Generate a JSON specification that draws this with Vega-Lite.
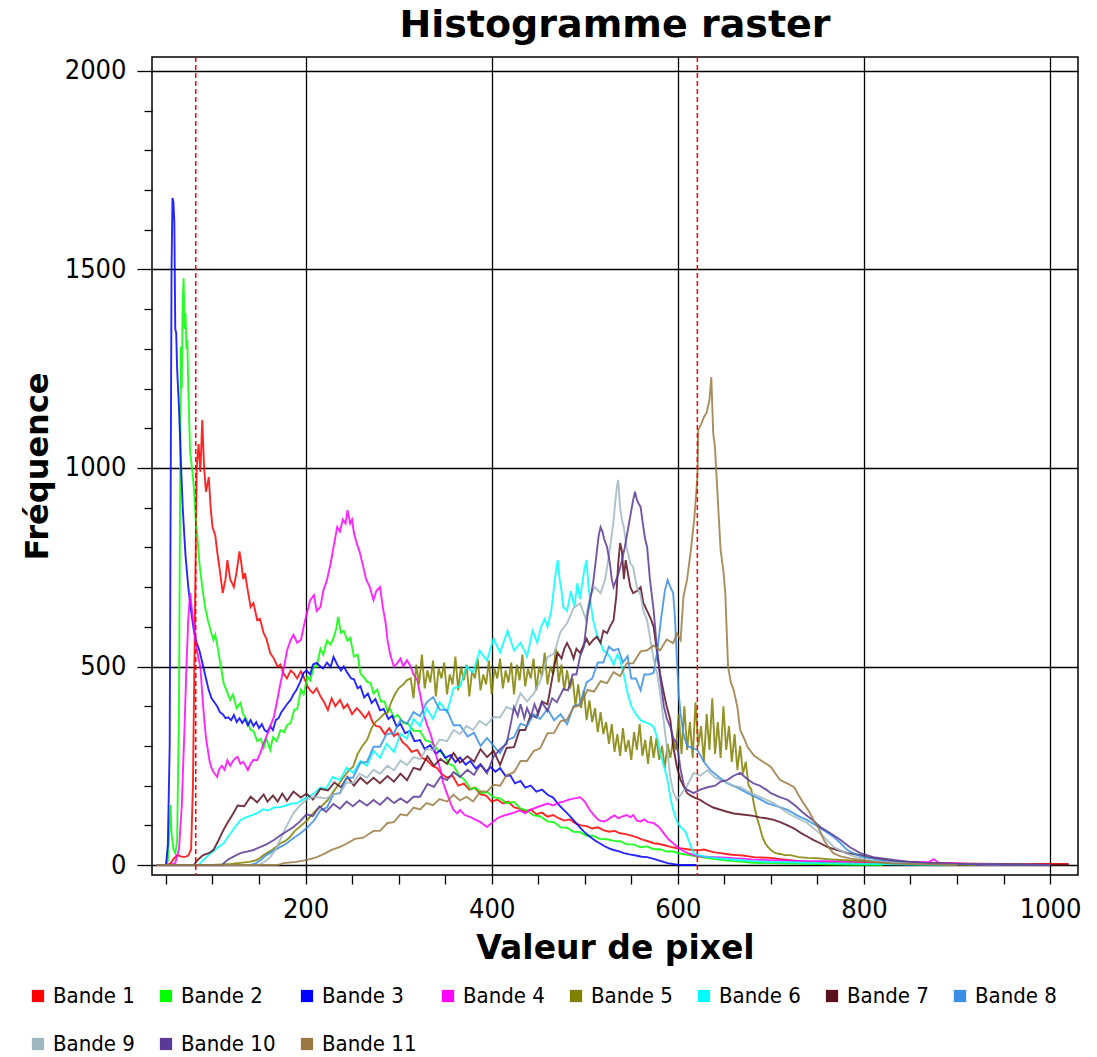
{
"$schema": "https://vega.github.io/schema/vega-lite/v6.json",
"width": 926, "height": 818,
"autosize": {"type": "none"},
"padding": {"left": 152, "top": 57, "right": 19, "bottom": 182},
"background": "white",
"title": {"text": "Histogramme raster", "font": "DejaVu Sans", "fontSize": 38, "fontWeight": "bold", "color": "black", "anchor": "middle", "offset": 11},
"config": {"view": {"stroke": "black", "strokeWidth": 1.5}},
"layer": [
{"data": {"values": [
{"b":1,"x":40,"y":0},{"b":1,"x":50,"y":0},{"b":1,"x":55,"y":4},{"b":1,"x":58,"y":15},{"b":1,"x":62,"y":25},{"b":1,"x":66,"y":22},{"b":1,"x":70,"y":20},{"b":1,"x":74,"y":24},{"b":1,"x":77,"y":40},{"b":1,"x":79,"y":200},{"b":1,"x":81,"y":600},{"b":1,"x":83,"y":1000},{"b":1,"x":85,"y":1060},{"b":1,"x":87,"y":990},{"b":1,"x":89,"y":1121},{"b":1,"x":91,"y":1000},{"b":1,"x":93,"y":940},{"b":1,"x":96,"y":977},{"b":1,"x":98,"y":900},{"b":1,"x":100,"y":851},{"b":1,"x":103,"y":830},{"b":1,"x":105,"y":790},{"b":1,"x":108,"y":740},{"b":1,"x":111,"y":685},{"b":1,"x":114,"y":720},{"b":1,"x":116,"y":768},{"b":1,"x":119,"y":720},{"b":1,"x":123,"y":700},{"b":1,"x":126,"y":740},{"b":1,"x":129,"y":790},{"b":1,"x":131,"y":760},{"b":1,"x":133,"y":720},{"b":1,"x":135,"y":735},{"b":1,"x":138,"y":690},{"b":1,"x":141,"y":650},{"b":1,"x":144,"y":660},{"b":1,"x":148,"y":617},{"b":1,"x":151,"y":620},{"b":1,"x":155,"y":584},{"b":1,"x":158,"y":570},{"b":1,"x":162,"y":534},{"b":1,"x":166,"y":520},{"b":1,"x":170,"y":499},{"b":1,"x":173,"y":505},{"b":1,"x":176,"y":484},{"b":1,"x":180,"y":470},{"b":1,"x":184,"y":490},{"b":1,"x":187,"y":484},{"b":1,"x":191,"y":470},{"b":1,"x":195,"y":488},{"b":1,"x":198,"y":474},{"b":1,"x":202,"y":450},{"b":1,"x":205,"y":440},{"b":1,"x":208,"y":433},{"b":1,"x":212,"y":445},{"b":1,"x":216,"y":425},{"b":1,"x":220,"y":410},{"b":1,"x":224,"y":390},{"b":1,"x":228,"y":420},{"b":1,"x":232,"y":400},{"b":1,"x":237,"y":416},{"b":1,"x":241,"y":395},{"b":1,"x":245,"y":405},{"b":1,"x":250,"y":380},{"b":1,"x":255,"y":395},{"b":1,"x":259,"y":385},{"b":1,"x":264,"y":370},{"b":1,"x":268,"y":385},{"b":1,"x":272,"y":360},{"b":1,"x":276,"y":350},{"b":1,"x":280,"y":348},{"b":1,"x":285,"y":330},{"b":1,"x":290,"y":345},{"b":1,"x":295,"y":325},{"b":1,"x":299,"y":332},{"b":1,"x":304,"y":310},{"b":1,"x":309,"y":300},{"b":1,"x":314,"y":285},{"b":1,"x":320,"y":290},{"b":1,"x":325,"y":270},{"b":1,"x":330,"y":265},{"b":1,"x":336,"y":250},{"b":1,"x":341,"y":245},{"b":1,"x":346,"y":230},{"b":1,"x":352,"y":220},{"b":1,"x":358,"y":225},{"b":1,"x":364,"y":200},{"b":1,"x":370,"y":205},{"b":1,"x":376,"y":190},{"b":1,"x":382,"y":195},{"b":1,"x":388,"y":178},{"b":1,"x":394,"y":175},{"b":1,"x":400,"y":160},{"b":1,"x":406,"y":165},{"b":1,"x":412,"y":155},{"b":1,"x":418,"y":160},{"b":1,"x":424,"y":145},{"b":1,"x":430,"y":142},{"b":1,"x":436,"y":135},{"b":1,"x":442,"y":140},{"b":1,"x":448,"y":128},{"b":1,"x":454,"y":132},{"b":1,"x":460,"y":122},{"b":1,"x":466,"y":126},{"b":1,"x":472,"y":118},{"b":1,"x":478,"y":112},{"b":1,"x":484,"y":115},{"b":1,"x":490,"y":105},{"b":1,"x":496,"y":100},{"b":1,"x":502,"y":98},{"b":1,"x":508,"y":92},{"b":1,"x":514,"y":95},{"b":1,"x":520,"y":88},{"b":1,"x":526,"y":84},{"b":1,"x":532,"y":86},{"b":1,"x":538,"y":80},{"b":1,"x":544,"y":78},{"b":1,"x":550,"y":74},{"b":1,"x":556,"y":70},{"b":1,"x":562,"y":64},{"b":1,"x":568,"y":60},{"b":1,"x":574,"y":55},{"b":1,"x":580,"y":53},{"b":1,"x":586,"y":50},{"b":1,"x":592,"y":46},{"b":1,"x":598,"y":43},{"b":1,"x":604,"y":42},{"b":1,"x":610,"y":40},{"b":1,"x":616,"y":38},{"b":1,"x":622,"y":37},{"b":1,"x":628,"y":39},{"b":1,"x":634,"y":35},{"b":1,"x":640,"y":32},{"b":1,"x":646,"y":30},{"b":1,"x":652,"y":28},{"b":1,"x":658,"y":26},{"b":1,"x":664,"y":25},{"b":1,"x":670,"y":24},{"b":1,"x":676,"y":22},{"b":1,"x":682,"y":20},{"b":1,"x":690,"y":19},{"b":1,"x":700,"y":18},{"b":1,"x":710,"y":15},{"b":1,"x":720,"y":12},{"b":1,"x":730,"y":10},{"b":1,"x":740,"y":8},{"b":1,"x":760,"y":7},{"b":1,"x":780,"y":6},{"b":1,"x":800,"y":5},{"b":1,"x":830,"y":5},{"b":1,"x":860,"y":4},{"b":1,"x":900,"y":4},{"b":1,"x":950,"y":3},{"b":1,"x":1000,"y":3},{"b":1,"x":1020,"y":3},
{"b":2,"x":40,"y":0},{"b":2,"x":50,"y":0},{"b":2,"x":52,"y":10},{"b":2,"x":54,"y":100},{"b":2,"x":55,"y":151},{"b":2,"x":56,"y":80},{"b":2,"x":58,"y":40},{"b":2,"x":60,"y":30},{"b":2,"x":62,"y":60},{"b":2,"x":64,"y":400},{"b":2,"x":66,"y":1305},{"b":2,"x":67,"y":1200},{"b":2,"x":68,"y":1423},{"b":2,"x":69,"y":1478},{"b":2,"x":70,"y":1350},{"b":2,"x":71,"y":1390},{"b":2,"x":72,"y":1300},{"b":2,"x":73,"y":1322},{"b":2,"x":74,"y":1200},{"b":2,"x":76,"y":1038},{"b":2,"x":78,"y":1000},{"b":2,"x":80,"y":950},{"b":2,"x":82,"y":870},{"b":2,"x":84,"y":819},{"b":2,"x":86,"y":760},{"b":2,"x":89,"y":700},{"b":2,"x":92,"y":650},{"b":2,"x":95,"y":617},{"b":2,"x":98,"y":590},{"b":2,"x":101,"y":567},{"b":2,"x":103,"y":580},{"b":2,"x":106,"y":542},{"b":2,"x":109,"y":500},{"b":2,"x":112,"y":458},{"b":2,"x":115,"y":440},{"b":2,"x":119,"y":416},{"b":2,"x":122,"y":430},{"b":2,"x":126,"y":395},{"b":2,"x":130,"y":408},{"b":2,"x":133,"y":380},{"b":2,"x":137,"y":365},{"b":2,"x":141,"y":340},{"b":2,"x":144,"y":338},{"b":2,"x":148,"y":312},{"b":2,"x":152,"y":318},{"b":2,"x":155,"y":295},{"b":2,"x":158,"y":318},{"b":2,"x":162,"y":290},{"b":2,"x":165,"y":322},{"b":2,"x":169,"y":312},{"b":2,"x":173,"y":340},{"b":2,"x":177,"y":335},{"b":2,"x":180,"y":352},{"b":2,"x":184,"y":358},{"b":2,"x":188,"y":392},{"b":2,"x":191,"y":392},{"b":2,"x":195,"y":442},{"b":2,"x":198,"y":430},{"b":2,"x":202,"y":475},{"b":2,"x":205,"y":465},{"b":2,"x":209,"y":500},{"b":2,"x":212,"y":500},{"b":2,"x":216,"y":545},{"b":2,"x":219,"y":530},{"b":2,"x":223,"y":565},{"b":2,"x":227,"y":555},{"b":2,"x":230,"y":572},{"b":2,"x":233,"y":595},{"b":2,"x":235,"y":625},{"b":2,"x":238,"y":585},{"b":2,"x":241,"y":590},{"b":2,"x":245,"y":565},{"b":2,"x":248,"y":572},{"b":2,"x":252,"y":525},{"b":2,"x":256,"y":530},{"b":2,"x":259,"y":482},{"b":2,"x":262,"y":475},{"b":2,"x":266,"y":462},{"b":2,"x":270,"y":458},{"b":2,"x":273,"y":432},{"b":2,"x":277,"y":442},{"b":2,"x":281,"y":412},{"b":2,"x":285,"y":412},{"b":2,"x":288,"y":388},{"b":2,"x":291,"y":392},{"b":2,"x":295,"y":372},{"b":2,"x":299,"y":378},{"b":2,"x":305,"y":358},{"b":2,"x":310,"y":356},{"b":2,"x":316,"y":338},{"b":2,"x":323,"y":338},{"b":2,"x":329,"y":314},{"b":2,"x":335,"y":310},{"b":2,"x":342,"y":290},{"b":2,"x":348,"y":280},{"b":2,"x":354,"y":255},{"b":2,"x":359,"y":250},{"b":2,"x":365,"y":226},{"b":2,"x":371,"y":214},{"b":2,"x":377,"y":192},{"b":2,"x":383,"y":194},{"b":2,"x":389,"y":181},{"b":2,"x":395,"y":184},{"b":2,"x":402,"y":171},{"b":2,"x":409,"y":168},{"b":2,"x":416,"y":156},{"b":2,"x":424,"y":159},{"b":2,"x":431,"y":142},{"b":2,"x":438,"y":138},{"b":2,"x":445,"y":125},{"b":2,"x":452,"y":123},{"b":2,"x":460,"y":110},{"b":2,"x":467,"y":108},{"b":2,"x":474,"y":95},{"b":2,"x":481,"y":94},{"b":2,"x":488,"y":84},{"b":2,"x":495,"y":83},{"b":2,"x":502,"y":74},{"b":2,"x":509,"y":74},{"b":2,"x":516,"y":66},{"b":2,"x":524,"y":65},{"b":2,"x":531,"y":61},{"b":2,"x":538,"y":60},{"b":2,"x":545,"y":52},{"b":2,"x":552,"y":52},{"b":2,"x":560,"y":45},{"b":2,"x":567,"y":47},{"b":2,"x":574,"y":40},{"b":2,"x":581,"y":40},{"b":2,"x":588,"y":34},{"b":2,"x":595,"y":34},{"b":2,"x":602,"y":29},{"b":2,"x":610,"y":26},{"b":2,"x":620,"y":22},{"b":2,"x":630,"y":18},{"b":2,"x":640,"y":15},{"b":2,"x":650,"y":12},{"b":2,"x":660,"y":10},{"b":2,"x":670,"y":8},{"b":2,"x":680,"y":6},{"b":2,"x":700,"y":5},{"b":2,"x":720,"y":4},{"b":2,"x":740,"y":3},{"b":2,"x":760,"y":2},{"b":2,"x":790,"y":1},{"b":2,"x":820,"y":0},
{"b":3,"x":40,"y":0},{"b":3,"x":50,"y":0},{"b":3,"x":52,"y":50},{"b":3,"x":54,"y":300},{"b":3,"x":55,"y":900},{"b":3,"x":56,"y":1500},{"b":3,"x":57,"y":1680},{"b":3,"x":58,"y":1670},{"b":3,"x":59,"y":1620},{"b":3,"x":60,"y":1350},{"b":3,"x":61,"y":1340},{"b":3,"x":62,"y":1250},{"b":3,"x":64,"y":1150},{"b":3,"x":66,"y":1020},{"b":3,"x":68,"y":900},{"b":3,"x":71,"y":780},{"b":3,"x":74,"y":700},{"b":3,"x":77,"y":640},{"b":3,"x":80,"y":590},{"b":3,"x":83,"y":560},{"b":3,"x":86,"y":540},{"b":3,"x":90,"y":500},{"b":3,"x":93,"y":470},{"b":3,"x":96,"y":440},{"b":3,"x":99,"y":420},{"b":3,"x":102,"y":410},{"b":3,"x":105,"y":400},{"b":3,"x":108,"y":385},{"b":3,"x":111,"y":380},{"b":3,"x":114,"y":370},{"b":3,"x":117,"y":372},{"b":3,"x":120,"y":365},{"b":3,"x":123,"y":378},{"b":3,"x":126,"y":360},{"b":3,"x":129,"y":370},{"b":3,"x":132,"y":358},{"b":3,"x":135,"y":368},{"b":3,"x":138,"y":352},{"b":3,"x":141,"y":365},{"b":3,"x":144,"y":350},{"b":3,"x":147,"y":360},{"b":3,"x":150,"y":345},{"b":3,"x":153,"y":355},{"b":3,"x":156,"y":340},{"b":3,"x":159,"y":335},{"b":3,"x":162,"y":350},{"b":3,"x":165,"y":340},{"b":3,"x":168,"y":365},{"b":3,"x":171,"y":370},{"b":3,"x":174,"y":385},{"b":3,"x":177,"y":395},{"b":3,"x":180,"y":405},{"b":3,"x":184,"y":416},{"b":3,"x":187,"y":430},{"b":3,"x":190,"y":440},{"b":3,"x":194,"y":460},{"b":3,"x":198,"y":484},{"b":3,"x":201,"y":490},{"b":3,"x":205,"y":480},{"b":3,"x":208,"y":505},{"b":3,"x":212,"y":509},{"b":3,"x":216,"y":500},{"b":3,"x":219,"y":495},{"b":3,"x":223,"y":510},{"b":3,"x":227,"y":499},{"b":3,"x":230,"y":524},{"b":3,"x":234,"y":505},{"b":3,"x":238,"y":490},{"b":3,"x":241,"y":500},{"b":3,"x":245,"y":484},{"b":3,"x":249,"y":470},{"b":3,"x":252,"y":468},{"b":3,"x":256,"y":445},{"b":3,"x":259,"y":450},{"b":3,"x":263,"y":422},{"b":3,"x":267,"y":432},{"b":3,"x":271,"y":408},{"b":3,"x":275,"y":418},{"b":3,"x":280,"y":390},{"b":3,"x":284,"y":393},{"b":3,"x":289,"y":368},{"b":3,"x":293,"y":376},{"b":3,"x":298,"y":348},{"b":3,"x":302,"y":356},{"b":3,"x":307,"y":332},{"b":3,"x":312,"y":338},{"b":3,"x":317,"y":312},{"b":3,"x":323,"y":315},{"b":3,"x":328,"y":292},{"b":3,"x":334,"y":302},{"b":3,"x":340,"y":280},{"b":3,"x":345,"y":290},{"b":3,"x":350,"y":270},{"b":3,"x":356,"y":277},{"b":3,"x":361,"y":259},{"b":3,"x":366,"y":271},{"b":3,"x":372,"y":253},{"b":3,"x":377,"y":262},{"b":3,"x":383,"y":243},{"b":3,"x":388,"y":254},{"b":3,"x":394,"y":236},{"b":3,"x":399,"y":247},{"b":3,"x":404,"y":235},{"b":3,"x":409,"y":244},{"b":3,"x":415,"y":224},{"b":3,"x":420,"y":226},{"b":3,"x":425,"y":206},{"b":3,"x":431,"y":212},{"b":3,"x":436,"y":195},{"b":3,"x":442,"y":200},{"b":3,"x":448,"y":185},{"b":3,"x":454,"y":190},{"b":3,"x":460,"y":177},{"b":3,"x":466,"y":170},{"b":3,"x":471,"y":155},{"b":3,"x":476,"y":142},{"b":3,"x":481,"y":131},{"b":3,"x":486,"y":118},{"b":3,"x":491,"y":105},{"b":3,"x":496,"y":92},{"b":3,"x":501,"y":80},{"b":3,"x":506,"y":71},{"b":3,"x":511,"y":62},{"b":3,"x":516,"y":55},{"b":3,"x":521,"y":48},{"b":3,"x":526,"y":42},{"b":3,"x":531,"y":38},{"b":3,"x":536,"y":35},{"b":3,"x":542,"y":30},{"b":3,"x":548,"y":27},{"b":3,"x":555,"y":24},{"b":3,"x":561,"y":21},{"b":3,"x":567,"y":20},{"b":3,"x":575,"y":15},{"b":3,"x":582,"y":10},{"b":3,"x":589,"y":5},{"b":3,"x":596,"y":2},{"b":3,"x":603,"y":0},{"b":3,"x":620,"y":0},
{"b":4,"x":40,"y":0},{"b":4,"x":55,"y":0},{"b":4,"x":60,"y":5},{"b":4,"x":64,"y":40},{"b":4,"x":67,"y":150},{"b":4,"x":70,"y":350},{"b":4,"x":72,"y":500},{"b":4,"x":74,"y":620},{"b":4,"x":76,"y":685},{"b":4,"x":78,"y":640},{"b":4,"x":80,"y":600},{"b":4,"x":82,"y":560},{"b":4,"x":85,"y":520},{"b":4,"x":87,"y":499},{"b":4,"x":89,"y":430},{"b":4,"x":91,"y":370},{"b":4,"x":93,"y":320},{"b":4,"x":95,"y":290},{"b":4,"x":97,"y":260},{"b":4,"x":99,"y":245},{"b":4,"x":101,"y":235},{"b":4,"x":103,"y":228},{"b":4,"x":105,"y":222},{"b":4,"x":107,"y":240},{"b":4,"x":110,"y":250},{"b":4,"x":113,"y":240},{"b":4,"x":116,"y":264},{"b":4,"x":119,"y":250},{"b":4,"x":122,"y":262},{"b":4,"x":125,"y":270},{"b":4,"x":127,"y":272},{"b":4,"x":130,"y":255},{"b":4,"x":133,"y":260},{"b":4,"x":136,"y":248},{"b":4,"x":138,"y":239},{"b":4,"x":141,"y":255},{"b":4,"x":144,"y":265},{"b":4,"x":148,"y":264},{"b":4,"x":151,"y":280},{"b":4,"x":155,"y":307},{"b":4,"x":159,"y":330},{"b":4,"x":163,"y":355},{"b":4,"x":166,"y":373},{"b":4,"x":170,"y":420},{"b":4,"x":173,"y":458},{"b":4,"x":177,"y":500},{"b":4,"x":180,"y":540},{"b":4,"x":184,"y":567},{"b":4,"x":187,"y":580},{"b":4,"x":191,"y":560},{"b":4,"x":195,"y":567},{"b":4,"x":198,"y":600},{"b":4,"x":202,"y":640},{"b":4,"x":205,"y":667},{"b":4,"x":209,"y":680},{"b":4,"x":212,"y":640},{"b":4,"x":216,"y":650},{"b":4,"x":219,"y":690},{"b":4,"x":223,"y":718},{"b":4,"x":227,"y":760},{"b":4,"x":230,"y":800},{"b":4,"x":234,"y":851},{"b":4,"x":237,"y":840},{"b":4,"x":240,"y":870},{"b":4,"x":243,"y":860},{"b":4,"x":245,"y":894},{"b":4,"x":248,"y":860},{"b":4,"x":250,"y":870},{"b":4,"x":252,"y":836},{"b":4,"x":255,"y":810},{"b":4,"x":258,"y":790},{"b":4,"x":262,"y":751},{"b":4,"x":265,"y":720},{"b":4,"x":269,"y":700},{"b":4,"x":273,"y":667},{"b":4,"x":276,"y":690},{"b":4,"x":280,"y":700},{"b":4,"x":283,"y":650},{"b":4,"x":286,"y":610},{"b":4,"x":288,"y":567},{"b":4,"x":291,"y":530},{"b":4,"x":295,"y":499},{"b":4,"x":299,"y":510},{"b":4,"x":302,"y":520},{"b":4,"x":305,"y":500},{"b":4,"x":309,"y":516},{"b":4,"x":313,"y":500},{"b":4,"x":316,"y":480},{"b":4,"x":320,"y":466},{"b":4,"x":324,"y":420},{"b":4,"x":327,"y":380},{"b":4,"x":331,"y":350},{"b":4,"x":334,"y":332},{"b":4,"x":338,"y":300},{"b":4,"x":341,"y":270},{"b":4,"x":345,"y":240},{"b":4,"x":348,"y":206},{"b":4,"x":352,"y":180},{"b":4,"x":356,"y":155},{"b":4,"x":359,"y":139},{"b":4,"x":363,"y":130},{"b":4,"x":366,"y":139},{"b":4,"x":371,"y":126},{"b":4,"x":377,"y":121},{"b":4,"x":382,"y":115},{"b":4,"x":388,"y":108},{"b":4,"x":395,"y":96},{"b":4,"x":400,"y":106},{"b":4,"x":406,"y":118},{"b":4,"x":412,"y":124},{"b":4,"x":418,"y":128},{"b":4,"x":424,"y":132},{"b":4,"x":430,"y":138},{"b":4,"x":436,"y":130},{"b":4,"x":442,"y":140},{"b":4,"x":448,"y":145},{"b":4,"x":454,"y":150},{"b":4,"x":460,"y":155},{"b":4,"x":466,"y":150},{"b":4,"x":471,"y":156},{"b":4,"x":477,"y":160},{"b":4,"x":483,"y":165},{"b":4,"x":489,"y":168},{"b":4,"x":495,"y":171},{"b":4,"x":500,"y":160},{"b":4,"x":505,"y":140},{"b":4,"x":510,"y":125},{"b":4,"x":515,"y":113},{"b":4,"x":520,"y":110},{"b":4,"x":524,"y":113},{"b":4,"x":528,"y":120},{"b":4,"x":532,"y":125},{"b":4,"x":536,"y":118},{"b":4,"x":540,"y":122},{"b":4,"x":545,"y":126},{"b":4,"x":549,"y":120},{"b":4,"x":552,"y":126},{"b":4,"x":556,"y":112},{"b":4,"x":560,"y":110},{"b":4,"x":564,"y":115},{"b":4,"x":568,"y":108},{"b":4,"x":574,"y":106},{"b":4,"x":580,"y":95},{"b":4,"x":585,"y":80},{"b":4,"x":590,"y":65},{"b":4,"x":595,"y":55},{"b":4,"x":600,"y":45},{"b":4,"x":606,"y":35},{"b":4,"x":611,"y":30},{"b":4,"x":617,"y":25},{"b":4,"x":623,"y":22},{"b":4,"x":630,"y":21},{"b":4,"x":640,"y":20},{"b":4,"x":649,"y":19},{"b":4,"x":660,"y":17},{"b":4,"x":670,"y":16},{"b":4,"x":680,"y":14},{"b":4,"x":700,"y":12},{"b":4,"x":720,"y":11},{"b":4,"x":740,"y":10},{"b":4,"x":760,"y":10},{"b":4,"x":780,"y":9},{"b":4,"x":800,"y":9},{"b":4,"x":820,"y":8},{"b":4,"x":840,"y":8},{"b":4,"x":860,"y":7},{"b":4,"x":870,"y":8},{"b":4,"x":875,"y":15},{"b":4,"x":880,"y":6},{"b":4,"x":900,"y":4},{"b":4,"x":920,"y":2},{"b":4,"x":950,"y":0},
{"b":5,"x":40,"y":0},{"b":5,"x":100,"y":0},{"b":5,"x":120,"y":3},{"b":5,"x":140,"y":8},{"b":5,"x":148,"y":13},{"b":5,"x":155,"y":25},{"b":5,"x":162,"y":35},{"b":5,"x":168,"y":45},{"b":5,"x":173,"y":55},{"b":5,"x":178,"y":60},{"b":5,"x":183,"y":70},{"b":5,"x":188,"y":85},{"b":5,"x":193,"y":95},{"b":5,"x":198,"y":105},{"b":5,"x":202,"y":113},{"b":5,"x":206,"y":125},{"b":5,"x":212,"y":140},{"b":5,"x":218,"y":150},{"b":5,"x":224,"y":164},{"b":5,"x":230,"y":185},{"b":5,"x":236,"y":205},{"b":5,"x":242,"y":225},{"b":5,"x":247,"y":240},{"b":5,"x":251,"y":247},{"b":5,"x":256,"y":280},{"b":5,"x":261,"y":300},{"b":5,"x":266,"y":315},{"b":5,"x":271,"y":345},{"b":5,"x":275,"y":360},{"b":5,"x":280,"y":370},{"b":5,"x":284,"y":380},{"b":5,"x":288,"y":383},{"b":5,"x":292,"y":410},{"b":5,"x":296,"y":430},{"b":5,"x":300,"y":445},{"b":5,"x":305,"y":455},{"b":5,"x":309,"y":466},{"b":5,"x":313,"y":470},{"b":5,"x":316,"y":420},{"b":5,"x":319,"y":505},{"b":5,"x":322,"y":455},{"b":5,"x":325,"y":530},{"b":5,"x":328,"y":445},{"b":5,"x":331,"y":490},{"b":5,"x":334,"y":460},{"b":5,"x":337,"y":515},{"b":5,"x":340,"y":425},{"b":5,"x":343,"y":495},{"b":5,"x":346,"y":470},{"b":5,"x":349,"y":510},{"b":5,"x":352,"y":430},{"b":5,"x":355,"y":480},{"b":5,"x":358,"y":455},{"b":5,"x":361,"y":525},{"b":5,"x":364,"y":440},{"b":5,"x":367,"y":500},{"b":5,"x":370,"y":465},{"b":5,"x":373,"y":505},{"b":5,"x":376,"y":425},{"b":5,"x":379,"y":490},{"b":5,"x":382,"y":470},{"b":5,"x":385,"y":520},{"b":5,"x":388,"y":440},{"b":5,"x":391,"y":480},{"b":5,"x":394,"y":455},{"b":5,"x":397,"y":515},{"b":5,"x":400,"y":430},{"b":5,"x":403,"y":495},{"b":5,"x":406,"y":470},{"b":5,"x":409,"y":520},{"b":5,"x":412,"y":445},{"b":5,"x":415,"y":490},{"b":5,"x":418,"y":460},{"b":5,"x":421,"y":510},{"b":5,"x":424,"y":430},{"b":5,"x":427,"y":505},{"b":5,"x":430,"y":465},{"b":5,"x":433,"y":530},{"b":5,"x":436,"y":450},{"b":5,"x":439,"y":495},{"b":5,"x":442,"y":470},{"b":5,"x":445,"y":520},{"b":5,"x":448,"y":440},{"b":5,"x":451,"y":500},{"b":5,"x":454,"y":475},{"b":5,"x":457,"y":535},{"b":5,"x":460,"y":455},{"b":5,"x":463,"y":500},{"b":5,"x":466,"y":480},{"b":5,"x":469,"y":545},{"b":5,"x":472,"y":460},{"b":5,"x":475,"y":505},{"b":5,"x":478,"y":440},{"b":5,"x":481,"y":490},{"b":5,"x":484,"y":445},{"b":5,"x":487,"y":470},{"b":5,"x":490,"y":400},{"b":5,"x":493,"y":455},{"b":5,"x":496,"y":395},{"b":5,"x":499,"y":440},{"b":5,"x":502,"y":365},{"b":5,"x":505,"y":415},{"b":5,"x":508,"y":360},{"b":5,"x":511,"y":395},{"b":5,"x":514,"y":335},{"b":5,"x":517,"y":385},{"b":5,"x":520,"y":330},{"b":5,"x":523,"y":360},{"b":5,"x":526,"y":305},{"b":5,"x":529,"y":355},{"b":5,"x":532,"y":285},{"b":5,"x":535,"y":330},{"b":5,"x":538,"y":275},{"b":5,"x":541,"y":345},{"b":5,"x":544,"y":285},{"b":5,"x":547,"y":315},{"b":5,"x":550,"y":265},{"b":5,"x":553,"y":335},{"b":5,"x":556,"y":290},{"b":5,"x":559,"y":355},{"b":5,"x":562,"y":275},{"b":5,"x":565,"y":315},{"b":5,"x":568,"y":255},{"b":5,"x":571,"y":325},{"b":5,"x":574,"y":270},{"b":5,"x":577,"y":320},{"b":5,"x":580,"y":265},{"b":5,"x":583,"y":300},{"b":5,"x":586,"y":245},{"b":5,"x":589,"y":305},{"b":5,"x":592,"y":270},{"b":5,"x":595,"y":315},{"b":5,"x":598,"y":290},{"b":5,"x":601,"y":380},{"b":5,"x":604,"y":280},{"b":5,"x":607,"y":400},{"b":5,"x":610,"y":290},{"b":5,"x":613,"y":360},{"b":5,"x":616,"y":270},{"b":5,"x":619,"y":410},{"b":5,"x":622,"y":300},{"b":5,"x":625,"y":350},{"b":5,"x":628,"y":260},{"b":5,"x":631,"y":380},{"b":5,"x":634,"y":290},{"b":5,"x":637,"y":420},{"b":5,"x":640,"y":280},{"b":5,"x":643,"y":360},{"b":5,"x":646,"y":270},{"b":5,"x":649,"y":400},{"b":5,"x":652,"y":290},{"b":5,"x":655,"y":350},{"b":5,"x":658,"y":260},{"b":5,"x":661,"y":330},{"b":5,"x":664,"y":240},{"b":5,"x":667,"y":300},{"b":5,"x":670,"y":230},{"b":5,"x":673,"y":260},{"b":5,"x":676,"y":200},{"b":5,"x":679,"y":190},{"b":5,"x":682,"y":150},{"b":5,"x":685,"y":120},{"b":5,"x":688,"y":96},{"b":5,"x":691,"y":70},{"b":5,"x":694,"y":55},{"b":5,"x":697,"y":45},{"b":5,"x":700,"y":38},{"b":5,"x":705,"y":30},{"b":5,"x":710,"y":28},{"b":5,"x":715,"y":25},{"b":5,"x":721,"y":25},{"b":5,"x":730,"y":20},{"b":5,"x":740,"y":18},{"b":5,"x":750,"y":17},{"b":5,"x":760,"y":15},{"b":5,"x":780,"y":12},{"b":5,"x":800,"y":10},{"b":5,"x":820,"y":6},{"b":5,"x":850,"y":4},{"b":5,"x":880,"y":2},{"b":5,"x":920,"y":0},
{"b":6,"x":40,"y":0},{"b":6,"x":85,"y":0},{"b":6,"x":90,"y":13},{"b":6,"x":96,"y":25},{"b":6,"x":101,"y":35},{"b":6,"x":106,"y":45},{"b":6,"x":112,"y":55},{"b":6,"x":118,"y":75},{"b":6,"x":124,"y":95},{"b":6,"x":130,"y":113},{"b":6,"x":136,"y":120},{"b":6,"x":142,"y":125},{"b":6,"x":148,"y":131},{"b":6,"x":154,"y":140},{"b":6,"x":160,"y":138},{"b":6,"x":166,"y":145},{"b":6,"x":173,"y":146},{"b":6,"x":179,"y":150},{"b":6,"x":185,"y":155},{"b":6,"x":191,"y":156},{"b":6,"x":197,"y":165},{"b":6,"x":203,"y":172},{"b":6,"x":209,"y":180},{"b":6,"x":216,"y":195},{"b":6,"x":222,"y":192},{"b":6,"x":229,"y":222},{"b":6,"x":237,"y":214},{"b":6,"x":244,"y":245},{"b":6,"x":251,"y":232},{"b":6,"x":259,"y":262},{"b":6,"x":266,"y":250},{"b":6,"x":273,"y":288},{"b":6,"x":280,"y":270},{"b":6,"x":287,"y":305},{"b":6,"x":295,"y":285},{"b":6,"x":302,"y":330},{"b":6,"x":309,"y":318},{"b":6,"x":316,"y":368},{"b":6,"x":323,"y":350},{"b":6,"x":330,"y":395},{"b":6,"x":337,"y":368},{"b":6,"x":344,"y":410},{"b":6,"x":352,"y":385},{"b":6,"x":359,"y":445},{"b":6,"x":366,"y":450},{"b":6,"x":373,"y":500},{"b":6,"x":380,"y":485},{"b":6,"x":387,"y":540},{"b":6,"x":395,"y":515},{"b":6,"x":402,"y":570},{"b":6,"x":409,"y":535},{"b":6,"x":417,"y":590},{"b":6,"x":424,"y":540},{"b":6,"x":431,"y":560},{"b":6,"x":438,"y":525},{"b":6,"x":444,"y":590},{"b":6,"x":449,"y":560},{"b":6,"x":453,"y":600},{"b":6,"x":457,"y":620},{"b":6,"x":460,"y":600},{"b":6,"x":464,"y":640},{"b":6,"x":467,"y":700},{"b":6,"x":469,"y":740},{"b":6,"x":471,"y":768},{"b":6,"x":473,"y":720},{"b":6,"x":475,"y":690},{"b":6,"x":477,"y":650},{"b":6,"x":481,"y":640},{"b":6,"x":485,"y":690},{"b":6,"x":489,"y":650},{"b":6,"x":492,"y":710},{"b":6,"x":495,"y":670},{"b":6,"x":498,"y":720},{"b":6,"x":500,"y":750},{"b":6,"x":502,"y":768},{"b":6,"x":504,"y":700},{"b":6,"x":507,"y":650},{"b":6,"x":509,"y":617},{"b":6,"x":513,"y":580},{"b":6,"x":517,"y":560},{"b":6,"x":520,"y":540},{"b":6,"x":524,"y":534},{"b":6,"x":528,"y":520},{"b":6,"x":531,"y":505},{"b":6,"x":535,"y":530},{"b":6,"x":538,"y":516},{"b":6,"x":542,"y":480},{"b":6,"x":546,"y":433},{"b":6,"x":550,"y":400},{"b":6,"x":555,"y":380},{"b":6,"x":560,"y":365},{"b":6,"x":565,"y":360},{"b":6,"x":570,"y":355},{"b":6,"x":574,"y":348},{"b":6,"x":578,"y":320},{"b":6,"x":581,"y":282},{"b":6,"x":585,"y":250},{"b":6,"x":589,"y":214},{"b":6,"x":592,"y":170},{"b":6,"x":595,"y":139},{"b":6,"x":599,"y":110},{"b":6,"x":603,"y":96},{"b":6,"x":608,"y":85},{"b":6,"x":612,"y":60},{"b":6,"x":617,"y":30},{"b":6,"x":622,"y":25},{"b":6,"x":628,"y":22},{"b":6,"x":634,"y":20},{"b":6,"x":640,"y":18},{"b":6,"x":650,"y":16},{"b":6,"x":660,"y":14},{"b":6,"x":670,"y":12},{"b":6,"x":680,"y":10},{"b":6,"x":690,"y":9},{"b":6,"x":700,"y":8},{"b":6,"x":720,"y":7},{"b":6,"x":740,"y":6},{"b":6,"x":760,"y":5},{"b":6,"x":780,"y":4},{"b":6,"x":800,"y":3},{"b":6,"x":830,"y":2},{"b":6,"x":860,"y":1},{"b":6,"x":900,"y":0},
{"b":7,"x":40,"y":0},{"b":7,"x":80,"y":0},{"b":7,"x":84,"y":13},{"b":7,"x":90,"y":25},{"b":7,"x":96,"y":30},{"b":7,"x":101,"y":38},{"b":7,"x":106,"y":60},{"b":7,"x":111,"y":85},{"b":7,"x":116,"y":106},{"b":7,"x":121,"y":125},{"b":7,"x":127,"y":150},{"b":7,"x":134,"y":148},{"b":7,"x":141,"y":172},{"b":7,"x":148,"y":158},{"b":7,"x":155,"y":178},{"b":7,"x":159,"y":160},{"b":7,"x":165,"y":175},{"b":7,"x":170,"y":160},{"b":7,"x":175,"y":180},{"b":7,"x":180,"y":162},{"b":7,"x":187,"y":185},{"b":7,"x":195,"y":170},{"b":7,"x":201,"y":180},{"b":7,"x":208,"y":165},{"b":7,"x":216,"y":192},{"b":7,"x":224,"y":188},{"b":7,"x":231,"y":208},{"b":7,"x":238,"y":196},{"b":7,"x":245,"y":222},{"b":7,"x":252,"y":200},{"b":7,"x":259,"y":220},{"b":7,"x":266,"y":205},{"b":7,"x":273,"y":220},{"b":7,"x":280,"y":206},{"b":7,"x":288,"y":224},{"b":7,"x":295,"y":210},{"b":7,"x":302,"y":230},{"b":7,"x":309,"y":214},{"b":7,"x":316,"y":245},{"b":7,"x":323,"y":240},{"b":7,"x":331,"y":274},{"b":7,"x":338,"y":250},{"b":7,"x":345,"y":267},{"b":7,"x":352,"y":255},{"b":7,"x":359,"y":282},{"b":7,"x":366,"y":258},{"b":7,"x":374,"y":274},{"b":7,"x":381,"y":260},{"b":7,"x":388,"y":292},{"b":7,"x":395,"y":272},{"b":7,"x":402,"y":288},{"b":7,"x":409,"y":252},{"b":7,"x":416,"y":295},{"b":7,"x":424,"y":297},{"b":7,"x":430,"y":340},{"b":7,"x":436,"y":340},{"b":7,"x":442,"y":378},{"b":7,"x":448,"y":372},{"b":7,"x":454,"y":412},{"b":7,"x":460,"y":405},{"b":7,"x":465,"y":470},{"b":7,"x":468,"y":510},{"b":7,"x":471,"y":534},{"b":7,"x":475,"y":520},{"b":7,"x":478,"y":545},{"b":7,"x":481,"y":559},{"b":7,"x":485,"y":540},{"b":7,"x":488,"y":520},{"b":7,"x":491,"y":545},{"b":7,"x":495,"y":534},{"b":7,"x":498,"y":550},{"b":7,"x":502,"y":570},{"b":7,"x":505,"y":555},{"b":7,"x":509,"y":567},{"b":7,"x":513,"y":575},{"b":7,"x":517,"y":560},{"b":7,"x":520,"y":590},{"b":7,"x":524,"y":584},{"b":7,"x":527,"y":600},{"b":7,"x":531,"y":617},{"b":7,"x":534,"y":680},{"b":7,"x":536,"y":760},{"b":7,"x":538,"y":811},{"b":7,"x":540,"y":790},{"b":7,"x":542,"y":720},{"b":7,"x":544,"y":768},{"b":7,"x":546,"y":740},{"b":7,"x":549,"y":700},{"b":7,"x":552,"y":685},{"b":7,"x":556,"y":690},{"b":7,"x":560,"y":700},{"b":7,"x":563,"y":660},{"b":7,"x":567,"y":640},{"b":7,"x":571,"y":620},{"b":7,"x":574,"y":600},{"b":7,"x":578,"y":530},{"b":7,"x":581,"y":480},{"b":7,"x":585,"y":433},{"b":7,"x":588,"y":400},{"b":7,"x":592,"y":365},{"b":7,"x":595,"y":300},{"b":7,"x":599,"y":247},{"b":7,"x":603,"y":214},{"b":7,"x":606,"y":200},{"b":7,"x":610,"y":181},{"b":7,"x":614,"y":175},{"b":7,"x":618,"y":170},{"b":7,"x":624,"y":164},{"b":7,"x":630,"y":155},{"b":7,"x":638,"y":145},{"b":7,"x":645,"y":140},{"b":7,"x":652,"y":135},{"b":7,"x":660,"y":130},{"b":7,"x":667,"y":128},{"b":7,"x":674,"y":126},{"b":7,"x":681,"y":124},{"b":7,"x":688,"y":120},{"b":7,"x":695,"y":118},{"b":7,"x":703,"y":114},{"b":7,"x":710,"y":108},{"b":7,"x":718,"y":100},{"b":7,"x":725,"y":92},{"b":7,"x":732,"y":81},{"b":7,"x":739,"y":72},{"b":7,"x":746,"y":63},{"b":7,"x":753,"y":55},{"b":7,"x":761,"y":45},{"b":7,"x":768,"y":40},{"b":7,"x":775,"y":35},{"b":7,"x":782,"y":30},{"b":7,"x":790,"y":28},{"b":7,"x":797,"y":24},{"b":7,"x":804,"y":20},{"b":7,"x":812,"y":17},{"b":7,"x":820,"y":14},{"b":7,"x":832,"y":10},{"b":7,"x":845,"y":8},{"b":7,"x":860,"y":6},{"b":7,"x":880,"y":4},{"b":7,"x":900,"y":3},{"b":7,"x":950,"y":2},{"b":7,"x":1000,"y":1},{"b":7,"x":1020,"y":1},
{"b":8,"x":40,"y":0},{"b":8,"x":140,"y":0},{"b":8,"x":147,"y":5},{"b":8,"x":152,"y":13},{"b":8,"x":158,"y":25},{"b":8,"x":165,"y":35},{"b":8,"x":173,"y":46},{"b":8,"x":180,"y":55},{"b":8,"x":187,"y":68},{"b":8,"x":195,"y":81},{"b":8,"x":202,"y":95},{"b":8,"x":209,"y":112},{"b":8,"x":216,"y":138},{"b":8,"x":223,"y":145},{"b":8,"x":230,"y":178},{"b":8,"x":237,"y":182},{"b":8,"x":244,"y":220},{"b":8,"x":251,"y":220},{"b":8,"x":259,"y":258},{"b":8,"x":266,"y":260},{"b":8,"x":273,"y":298},{"b":8,"x":280,"y":298},{"b":8,"x":287,"y":330},{"b":8,"x":295,"y":332},{"b":8,"x":302,"y":366},{"b":8,"x":309,"y":356},{"b":8,"x":316,"y":385},{"b":8,"x":323,"y":375},{"b":8,"x":330,"y":410},{"b":8,"x":337,"y":423},{"b":8,"x":344,"y":392},{"b":8,"x":352,"y":390},{"b":8,"x":359,"y":352},{"b":8,"x":366,"y":352},{"b":8,"x":374,"y":324},{"b":8,"x":381,"y":333},{"b":8,"x":388,"y":300},{"b":8,"x":395,"y":320},{"b":8,"x":402,"y":300},{"b":8,"x":409,"y":282},{"b":8,"x":417,"y":315},{"b":8,"x":424,"y":322},{"b":8,"x":431,"y":356},{"b":8,"x":438,"y":350},{"b":8,"x":445,"y":380},{"b":8,"x":452,"y":368},{"b":8,"x":460,"y":393},{"b":8,"x":467,"y":365},{"b":8,"x":474,"y":380},{"b":8,"x":481,"y":355},{"b":8,"x":488,"y":400},{"b":8,"x":495,"y":406},{"b":8,"x":502,"y":460},{"b":8,"x":508,"y":470},{"b":8,"x":514,"y":510},{"b":8,"x":520,"y":510},{"b":8,"x":526,"y":550},{"b":8,"x":531,"y":540},{"b":8,"x":536,"y":545},{"b":8,"x":541,"y":510},{"b":8,"x":546,"y":526},{"b":8,"x":550,"y":470},{"b":8,"x":555,"y":470},{"b":8,"x":560,"y":440},{"b":8,"x":564,"y":480},{"b":8,"x":569,"y":480},{"b":8,"x":574,"y":484},{"b":8,"x":578,"y":540},{"b":8,"x":582,"y":620},{"b":8,"x":586,"y":690},{"b":8,"x":589,"y":718},{"b":8,"x":592,"y":700},{"b":8,"x":595,"y":685},{"b":8,"x":597,"y":620},{"b":8,"x":599,"y":516},{"b":8,"x":601,"y":430},{"b":8,"x":603,"y":380},{"b":8,"x":606,"y":330},{"b":8,"x":610,"y":300},{"b":8,"x":615,"y":295},{"b":8,"x":621,"y":290},{"b":8,"x":628,"y":260},{"b":8,"x":635,"y":239},{"b":8,"x":644,"y":222},{"b":8,"x":653,"y":206},{"b":8,"x":664,"y":195},{"b":8,"x":675,"y":181},{"b":8,"x":685,"y":170},{"b":8,"x":696,"y":156},{"b":8,"x":707,"y":148},{"b":8,"x":718,"y":139},{"b":8,"x":728,"y":125},{"b":8,"x":739,"y":113},{"b":8,"x":750,"y":98},{"b":8,"x":761,"y":81},{"b":8,"x":768,"y":70},{"b":8,"x":775,"y":55},{"b":8,"x":782,"y":38},{"b":8,"x":790,"y":28},{"b":8,"x":797,"y":22},{"b":8,"x":804,"y":18},{"b":8,"x":815,"y":13},{"b":8,"x":832,"y":8},{"b":8,"x":850,"y":6},{"b":8,"x":870,"y":4},{"b":8,"x":900,"y":3},{"b":8,"x":950,"y":1},{"b":8,"x":1000,"y":0},
{"b":9,"x":40,"y":0},{"b":9,"x":150,"y":0},{"b":9,"x":157,"y":10},{"b":9,"x":162,"y":20},{"b":9,"x":168,"y":40},{"b":9,"x":174,"y":70},{"b":9,"x":180,"y":100},{"b":9,"x":187,"y":131},{"b":9,"x":194,"y":150},{"b":9,"x":201,"y":165},{"b":9,"x":208,"y":171},{"b":9,"x":215,"y":170},{"b":9,"x":222,"y":168},{"b":9,"x":230,"y":178},{"b":9,"x":237,"y":180},{"b":9,"x":244,"y":208},{"b":9,"x":251,"y":206},{"b":9,"x":258,"y":230},{"b":9,"x":266,"y":220},{"b":9,"x":273,"y":240},{"b":9,"x":280,"y":230},{"b":9,"x":288,"y":250},{"b":9,"x":295,"y":239},{"b":9,"x":302,"y":263},{"b":9,"x":309,"y":252},{"b":9,"x":316,"y":272},{"b":9,"x":323,"y":267},{"b":9,"x":330,"y":293},{"b":9,"x":337,"y":289},{"b":9,"x":344,"y":316},{"b":9,"x":352,"y":312},{"b":9,"x":359,"y":340},{"b":9,"x":366,"y":330},{"b":9,"x":373,"y":350},{"b":9,"x":380,"y":340},{"b":9,"x":387,"y":363},{"b":9,"x":394,"y":352},{"b":9,"x":402,"y":373},{"b":9,"x":409,"y":372},{"b":9,"x":416,"y":398},{"b":9,"x":424,"y":390},{"b":9,"x":431,"y":433},{"b":9,"x":438,"y":412},{"b":9,"x":445,"y":431},{"b":9,"x":452,"y":462},{"b":9,"x":460,"y":524},{"b":9,"x":467,"y":532},{"b":9,"x":474,"y":588},{"b":9,"x":481,"y":609},{"b":9,"x":488,"y":648},{"b":9,"x":495,"y":659},{"b":9,"x":501,"y":620},{"b":9,"x":506,"y":680},{"b":9,"x":511,"y":700},{"b":9,"x":517,"y":685},{"b":9,"x":522,"y":720},{"b":9,"x":526,"y":780},{"b":9,"x":529,"y":830},{"b":9,"x":531,"y":869},{"b":9,"x":533,"y":920},{"b":9,"x":535,"y":960},{"b":9,"x":536,"y":970},{"b":9,"x":538,"y":900},{"b":9,"x":540,"y":870},{"b":9,"x":542,"y":851},{"b":9,"x":545,"y":800},{"b":9,"x":549,"y":760},{"b":9,"x":552,"y":751},{"b":9,"x":556,"y":700},{"b":9,"x":560,"y":680},{"b":9,"x":563,"y":640},{"b":9,"x":567,"y":617},{"b":9,"x":571,"y":560},{"b":9,"x":574,"y":520},{"b":9,"x":578,"y":480},{"b":9,"x":581,"y":433},{"b":9,"x":585,"y":360},{"b":9,"x":588,"y":300},{"b":9,"x":592,"y":222},{"b":9,"x":595,"y":185},{"b":9,"x":599,"y":164},{"b":9,"x":604,"y":180},{"b":9,"x":610,"y":200},{"b":9,"x":617,"y":232},{"b":9,"x":624,"y":225},{"b":9,"x":632,"y":239},{"b":9,"x":640,"y":220},{"b":9,"x":650,"y":210},{"b":9,"x":660,"y":200},{"b":9,"x":667,"y":196},{"b":9,"x":680,"y":180},{"b":9,"x":690,"y":170},{"b":9,"x":703,"y":156},{"b":9,"x":720,"y":128},{"b":9,"x":739,"y":106},{"b":9,"x":757,"y":71},{"b":9,"x":768,"y":45},{"b":9,"x":780,"y":30},{"b":9,"x":792,"y":20},{"b":9,"x":804,"y":13},{"b":9,"x":820,"y":8},{"b":9,"x":840,"y":5},{"b":9,"x":870,"y":3},{"b":9,"x":900,"y":2},{"b":9,"x":950,"y":1},{"b":9,"x":1000,"y":0},
{"b":10,"x":40,"y":0},{"b":10,"x":110,"y":0},{"b":10,"x":116,"y":13},{"b":10,"x":123,"y":22},{"b":10,"x":130,"y":30},{"b":10,"x":137,"y":34},{"b":10,"x":144,"y":38},{"b":10,"x":151,"y":45},{"b":10,"x":158,"y":52},{"b":10,"x":166,"y":63},{"b":10,"x":173,"y":75},{"b":10,"x":180,"y":85},{"b":10,"x":187,"y":96},{"b":10,"x":194,"y":110},{"b":10,"x":201,"y":128},{"b":10,"x":208,"y":123},{"b":10,"x":215,"y":148},{"b":10,"x":222,"y":134},{"b":10,"x":230,"y":154},{"b":10,"x":237,"y":142},{"b":10,"x":244,"y":160},{"b":10,"x":251,"y":148},{"b":10,"x":258,"y":163},{"b":10,"x":266,"y":150},{"b":10,"x":273,"y":164},{"b":10,"x":280,"y":152},{"b":10,"x":288,"y":170},{"b":10,"x":295,"y":156},{"b":10,"x":302,"y":168},{"b":10,"x":309,"y":157},{"b":10,"x":316,"y":172},{"b":10,"x":323,"y":172},{"b":10,"x":331,"y":204},{"b":10,"x":338,"y":197},{"b":10,"x":345,"y":222},{"b":10,"x":352,"y":214},{"b":10,"x":359,"y":234},{"b":10,"x":366,"y":222},{"b":10,"x":374,"y":240},{"b":10,"x":381,"y":227},{"b":10,"x":388,"y":253},{"b":10,"x":395,"y":231},{"b":10,"x":402,"y":273},{"b":10,"x":409,"y":292},{"b":10,"x":416,"y":305},{"b":10,"x":420,"y":350},{"b":10,"x":424,"y":398},{"b":10,"x":428,"y":375},{"b":10,"x":431,"y":405},{"b":10,"x":435,"y":370},{"b":10,"x":438,"y":395},{"b":10,"x":442,"y":373},{"b":10,"x":446,"y":405},{"b":10,"x":450,"y":380},{"b":10,"x":454,"y":410},{"b":10,"x":460,"y":388},{"b":10,"x":465,"y":420},{"b":10,"x":470,"y":410},{"b":10,"x":477,"y":443},{"b":10,"x":482,"y":440},{"b":10,"x":487,"y":480},{"b":10,"x":491,"y":480},{"b":10,"x":495,"y":526},{"b":10,"x":499,"y":550},{"b":10,"x":503,"y":630},{"b":10,"x":506,"y":670},{"b":10,"x":509,"y":710},{"b":10,"x":512,"y":770},{"b":10,"x":515,"y":830},{"b":10,"x":517,"y":851},{"b":10,"x":519,"y":840},{"b":10,"x":521,"y":820},{"b":10,"x":524,"y":801},{"b":10,"x":527,"y":760},{"b":10,"x":529,"y":720},{"b":10,"x":531,"y":700},{"b":10,"x":534,"y":720},{"b":10,"x":537,"y":740},{"b":10,"x":540,"y":768},{"b":10,"x":543,"y":800},{"b":10,"x":546,"y":840},{"b":10,"x":549,"y":880},{"b":10,"x":552,"y":919},{"b":10,"x":554,"y":940},{"b":10,"x":556,"y":920},{"b":10,"x":558,"y":910},{"b":10,"x":560,"y":902},{"b":10,"x":563,"y":850},{"b":10,"x":565,"y":820},{"b":10,"x":567,"y":801},{"b":10,"x":570,"y":720},{"b":10,"x":574,"y":642},{"b":10,"x":577,"y":560},{"b":10,"x":581,"y":474},{"b":10,"x":585,"y":400},{"b":10,"x":588,"y":370},{"b":10,"x":592,"y":348},{"b":10,"x":595,"y":320},{"b":10,"x":599,"y":307},{"b":10,"x":603,"y":240},{"b":10,"x":607,"y":196},{"b":10,"x":610,"y":190},{"b":10,"x":617,"y":181},{"b":10,"x":624,"y":190},{"b":10,"x":632,"y":196},{"b":10,"x":640,"y":200},{"b":10,"x":646,"y":210},{"b":10,"x":653,"y":214},{"b":10,"x":660,"y":225},{"b":10,"x":667,"y":232},{"b":10,"x":674,"y":218},{"b":10,"x":681,"y":206},{"b":10,"x":688,"y":200},{"b":10,"x":695,"y":190},{"b":10,"x":700,"y":181},{"b":10,"x":709,"y":172},{"b":10,"x":718,"y":164},{"b":10,"x":726,"y":150},{"b":10,"x":735,"y":131},{"b":10,"x":744,"y":115},{"b":10,"x":753,"y":96},{"b":10,"x":764,"y":80},{"b":10,"x":775,"y":63},{"b":10,"x":785,"y":45},{"b":10,"x":796,"y":30},{"b":10,"x":810,"y":20},{"b":10,"x":832,"y":13},{"b":10,"x":850,"y":8},{"b":10,"x":870,"y":5},{"b":10,"x":900,"y":3},{"b":10,"x":950,"y":1},{"b":10,"x":1000,"y":0},
{"b":11,"x":40,"y":0},{"b":11,"x":170,"y":0},{"b":11,"x":176,"y":5},{"b":11,"x":190,"y":8},{"b":11,"x":202,"y":13},{"b":11,"x":212,"y":20},{"b":11,"x":220,"y":28},{"b":11,"x":228,"y":38},{"b":11,"x":237,"y":46},{"b":11,"x":245,"y":55},{"b":11,"x":253,"y":66},{"b":11,"x":262,"y":69},{"b":11,"x":273,"y":86},{"b":11,"x":280,"y":86},{"b":11,"x":288,"y":106},{"b":11,"x":295,"y":108},{"b":11,"x":302,"y":128},{"b":11,"x":309,"y":125},{"b":11,"x":316,"y":145},{"b":11,"x":323,"y":140},{"b":11,"x":330,"y":156},{"b":11,"x":337,"y":151},{"b":11,"x":344,"y":166},{"b":11,"x":352,"y":160},{"b":11,"x":359,"y":177},{"b":11,"x":366,"y":163},{"b":11,"x":373,"y":172},{"b":11,"x":380,"y":160},{"b":11,"x":388,"y":186},{"b":11,"x":395,"y":185},{"b":11,"x":402,"y":202},{"b":11,"x":409,"y":200},{"b":11,"x":416,"y":226},{"b":11,"x":424,"y":234},{"b":11,"x":431,"y":262},{"b":11,"x":438,"y":262},{"b":11,"x":445,"y":287},{"b":11,"x":452,"y":294},{"b":11,"x":460,"y":332},{"b":11,"x":467,"y":333},{"b":11,"x":474,"y":362},{"b":11,"x":481,"y":366},{"b":11,"x":488,"y":398},{"b":11,"x":495,"y":402},{"b":11,"x":503,"y":441},{"b":11,"x":510,"y":437},{"b":11,"x":517,"y":463},{"b":11,"x":524,"y":458},{"b":11,"x":531,"y":486},{"b":11,"x":538,"y":476},{"b":11,"x":545,"y":508},{"b":11,"x":552,"y":508},{"b":11,"x":560,"y":538},{"b":11,"x":567,"y":541},{"b":11,"x":574,"y":553},{"b":11,"x":581,"y":541},{"b":11,"x":588,"y":568},{"b":11,"x":595,"y":559},{"b":11,"x":599,"y":584},{"b":11,"x":603,"y":567},{"b":11,"x":606,"y":675},{"b":11,"x":610,"y":720},{"b":11,"x":614,"y":793},{"b":11,"x":618,"y":880},{"b":11,"x":621,"y":977},{"b":11,"x":622,"y":1096},{"b":11,"x":625,"y":1110},{"b":11,"x":628,"y":1128},{"b":11,"x":631,"y":1140},{"b":11,"x":634,"y":1171},{"b":11,"x":636,"y":1229},{"b":11,"x":638,"y":1088},{"b":11,"x":640,"y":1050},{"b":11,"x":643,"y":919},{"b":11,"x":646,"y":793},{"b":11,"x":649,"y":740},{"b":11,"x":651,"y":685},{"b":11,"x":654,"y":499},{"b":11,"x":657,"y":460},{"b":11,"x":660,"y":441},{"b":11,"x":664,"y":398},{"b":11,"x":667,"y":340},{"b":11,"x":671,"y":320},{"b":11,"x":675,"y":297},{"b":11,"x":682,"y":275},{"b":11,"x":689,"y":264},{"b":11,"x":695,"y":255},{"b":11,"x":700,"y":247},{"b":11,"x":705,"y":230},{"b":11,"x":710,"y":214},{"b":11,"x":718,"y":205},{"b":11,"x":725,"y":196},{"b":11,"x":730,"y":175},{"b":11,"x":735,"y":156},{"b":11,"x":741,"y":135},{"b":11,"x":746,"y":113},{"b":11,"x":752,"y":90},{"b":11,"x":757,"y":63},{"b":11,"x":762,"y":45},{"b":11,"x":767,"y":30},{"b":11,"x":775,"y":22},{"b":11,"x":785,"y":17},{"b":11,"x":796,"y":13},{"b":11,"x":810,"y":8},{"b":11,"x":830,"y":4},{"b":11,"x":860,"y":2},{"b":11,"x":900,"y":0}
]},
"mark": {"type": "line", "strokeWidth": 1.9, "opacity": 0.85, "clip": true},
"encoding": {
"x": {"field": "x", "type": "quantitative", "scale": {"domain": [35, 1030], "nice": false, "zero": false},
 "axis": {"title": "Valeur de pixel", "titleFont": "DejaVu Sans", "titleFontSize": 33, "titleFontWeight": "bold", "titleColor": "black", "titlePadding": 10,
  "values": [50,100,150,200,250,300,350,400,450,500,550,600,650,700,750,800,850,900,950,1000],
  "labelExpr": "datum.value % 200 == 0 ? '' + datum.value : ''", "labelFont": "DejaVu Sans Condensed", "labelFontSize": 27, "labelColor": "black", "labelPadding": 12, "labelFlush": false,
  "domain": false, "ticks": true, "tickColor": "black", "tickWidth": 1.3, "tickSize": 9,
  "grid": true, "gridColor": "black", "gridWidth": 1.3, "gridOpacity": {"condition": {"test": "datum.value % 200 == 0", "value": 1}, "value": 0}}},
"y": {"field": "y", "type": "quantitative", "scale": {"domain": [-25, 2035], "nice": false, "zero": false},
 "axis": {"title": "Fréquence", "titleFont": "DejaVu Sans", "titleFontSize": 32, "titleFontWeight": "bold", "titleColor": "black", "titlePadding": 10,
  "values": [0,100,200,300,400,500,600,700,800,900,1000,1100,1200,1300,1400,1500,1600,1700,1800,1900,2000],
  "labelExpr": "datum.value % 500 == 0 ? '' + datum.value : ''", "labelFont": "DejaVu Sans Condensed", "labelFontSize": 27, "labelColor": "black", "labelPadding": 11,
  "domain": false, "ticks": true, "tickColor": "black", "tickWidth": 1.3,
  "tickSize": {"condition": {"test": "datum.value % 500 == 0", "value": 15}, "value": 8},
  "grid": true, "gridColor": "black", "gridWidth": 1.3, "gridOpacity": {"condition": {"test": "datum.value % 500 == 0", "value": 1}, "value": 0}}},
"color": {"field": "b", "type": "nominal",
 "scale": {"domain": [1,2,3,4,5,6,7,8,9,10,11], "range": ["#ff0000","#00ff00","#0000ff","#ff00ff","#808000","#00ffff","#5a0f1e","#3a8ee6","#9fb7bf","#5a3a96","#9a7a42"]},
 "legend": {"title": null, "orient": "none", "legendX": -125, "legendY": 928, "direction": "horizontal", "columns": 8,
  "labelExpr": "'Bande ' + datum.label", "labelFont": "DejaVu Sans Condensed", "labelFontSize": 22, "labelColor": "black",
  "symbolType": "square", "symbolSize": 150, "symbolStrokeWidth": 0, "symbolOpacity": 1, "labelOffset": 4,
  "columnPadding": 20, "rowPadding": 26, "padding": 0,
  "encode": {"symbols": {"update": {"fill": {"scale": "color", "field": "value"}, "fillOpacity": {"value": 1}, "strokeWidth": {"value": 0}}}}}}
}},
{"data": {"values": [{"v": 82}, {"v": 621}]},
 "mark": {"type": "rule", "color": "#ff0000", "strokeDash": [5, 3], "strokeWidth": 1.5},
 "encoding": {"x": {"field": "v", "type": "quantitative"}}}
]
}
